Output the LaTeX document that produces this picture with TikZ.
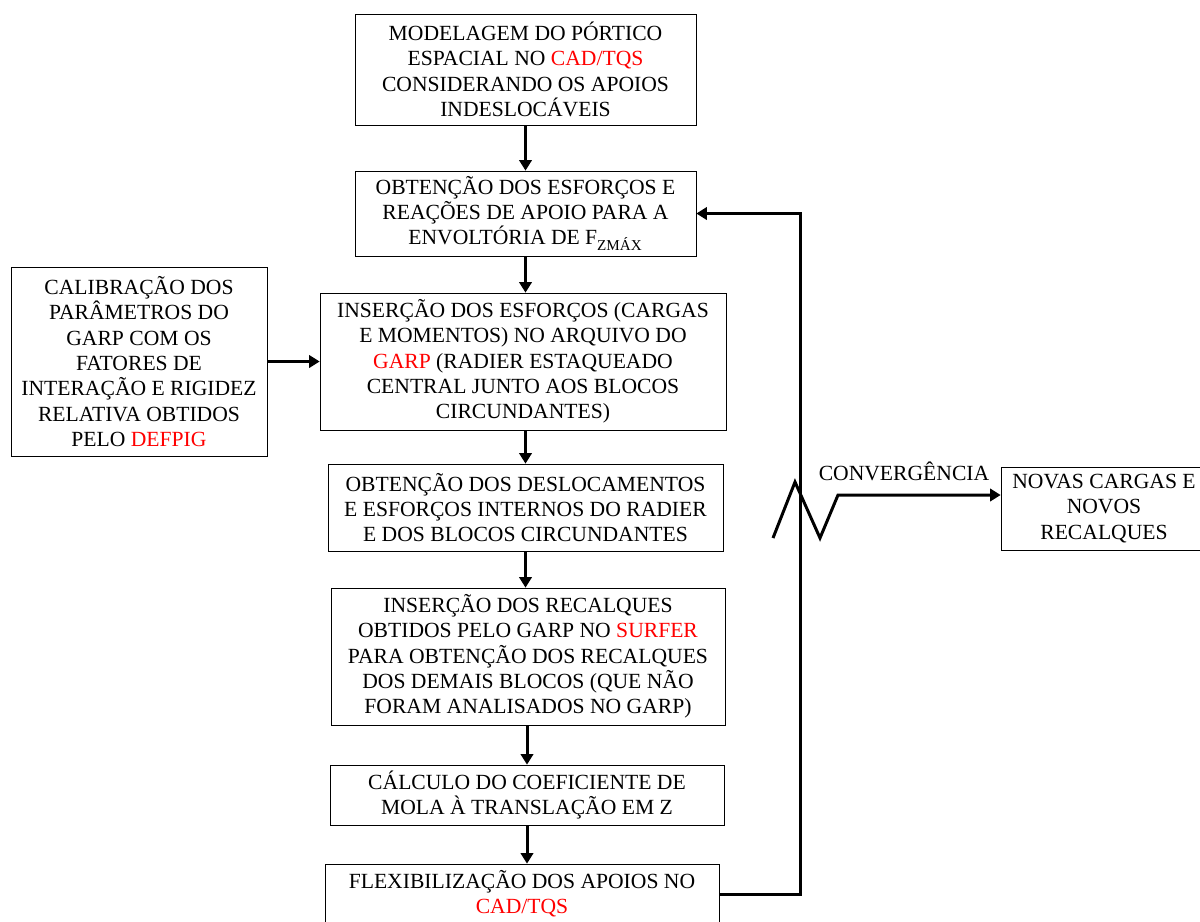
\documentclass[tikz,border=0pt]{standalone}
\usepackage{fontspec}
\setmainfont{Liberation Serif}
\usetikzlibrary{arrows.meta}
\newcommand{\destaque}[1]{\textcolor{red}{#1}}

\begin{document}
\begin{tikzpicture}[x=0.02cm, y=-0.02cm,
		caixa/.style={draw=black, thin, align=center, inner sep=1pt, font=\fontsize{12.3}{14.4}\selectfont},
		fluxo/.style={draw=black, line width=1.7pt, -{Triangle[length=6pt, width=7pt]}},
		rotulo/.style={black, inner sep=0pt, font=\fontsize{12.3}{14.4}\selectfont}]
		\useasboundingbox (0,0) rectangle (1200,921);
		% caixas do fluxo principal
		\node[caixa, minimum width=6.82cm, minimum height=2.22cm] (modelagem) at (525.5,69.5) {MODELAGEM DO PÓRTICO\\ESPACIAL NO \destaque{CAD/TQS}\\CONSIDERANDO OS APOIOS\\INDESLOCÁVEIS};
		\node[caixa, minimum width=6.82cm, minimum height=1.70cm] (esforcos) at (525.5,213.5) {OBTENÇÃO DOS ESFORÇOS E\\REAÇÕES DE APOIO PARA A\\ENVOLTÓRIA DE F\textsubscript{ZMÁX}};
		\node[caixa, minimum width=8.12cm, minimum height=2.74cm] (insercao) at (523,361.5) {INSERÇÃO DOS ESFORÇOS (CARGAS\\E MOMENTOS) NO ARQUIVO DO\\\destaque{GARP} (RADIER ESTAQUEADO\\CENTRAL JUNTO AOS BLOCOS\\CIRCUNDANTES)};
		\node[caixa, minimum width=5.12cm, minimum height=3.78cm] (calibracao) at (139,361.5) {CALIBRAÇÃO DOS\\PARÂMETROS DO\\GARP COM OS\\FATORES DE\\INTERAÇÃO E RIGIDEZ\\RELATIVA OBTIDOS\\PELO \destaque{DEFPIG}};
		\node[caixa, minimum width=7.90cm, minimum height=1.74cm] (deslocamentos) at (525.5,507.5) {OBTENÇÃO DOS DESLOCAMENTOS\\E ESFORÇOS INTERNOS DO RADIER\\E DOS BLOCOS CIRCUNDANTES};
		\node[caixa, minimum width=7.88cm, minimum height=2.74cm] (recalques) at (528,656.5) {INSERÇÃO DOS RECALQUES\\OBTIDOS PELO GARP NO \destaque{SURFER}\\PARA OBTENÇÃO DOS RECALQUES\\DOS DEMAIS BLOCOS (QUE NÃO\\FORAM ANALISADOS NO GARP)};
		\node[caixa, minimum width=7.88cm, minimum height=1.20cm] (calculo) at (527,795) {CÁLCULO DO COEFICIENTE DE\\MOLA À TRANSLAÇÃO EM Z};
		\node[caixa, minimum width=7.88cm, minimum height=1.20cm] (flexibilizacao) at (522,894) {FLEXIBILIZAÇÃO DOS APOIOS NO\\\destaque{CAD/TQS}};
		\node[caixa, minimum width=4.12cm, minimum height=1.66cm] (novas) at (1104,508.5) {NOVAS CARGAS E\\NOVOS\\RECALQUES};
		\node[rotulo] (convergencia) at (904,471) {CONVERGÊNCIA};
		% setas
		\draw[fluxo] (modelagem.south) -- (modelagem.south |- esforcos.north);
		\draw[fluxo] (esforcos.south) -- (esforcos.south |- insercao.north);
		\draw[fluxo] (calibracao.east) -- (insercao.west);
		\draw[fluxo] (deslocamentos.north |- insercao.south) -- (deslocamentos.north);
		\draw[fluxo] (deslocamentos.south) -- (deslocamentos.south |- recalques.north);
		\draw[fluxo] (calculo.north |- recalques.south) -- (calculo.north);
		\draw[fluxo] (calculo.south) -- (calculo.south |- flexibilizacao.north);
		% retorno e convergencia
		\coordinate (canto) at (800,894);
		\draw[fluxo] (flexibilizacao.east) -- (canto) |- (esforcos.east);
		\coordinate (zigue) at (773,538);
		\coordinate (zague) at (838,495);
		\draw[fluxo] (zigue) -- ++(22,-56) -- ++(25,56) -- (zague) -- (novas.west |- zague);
	\end{tikzpicture}
\end{document}
